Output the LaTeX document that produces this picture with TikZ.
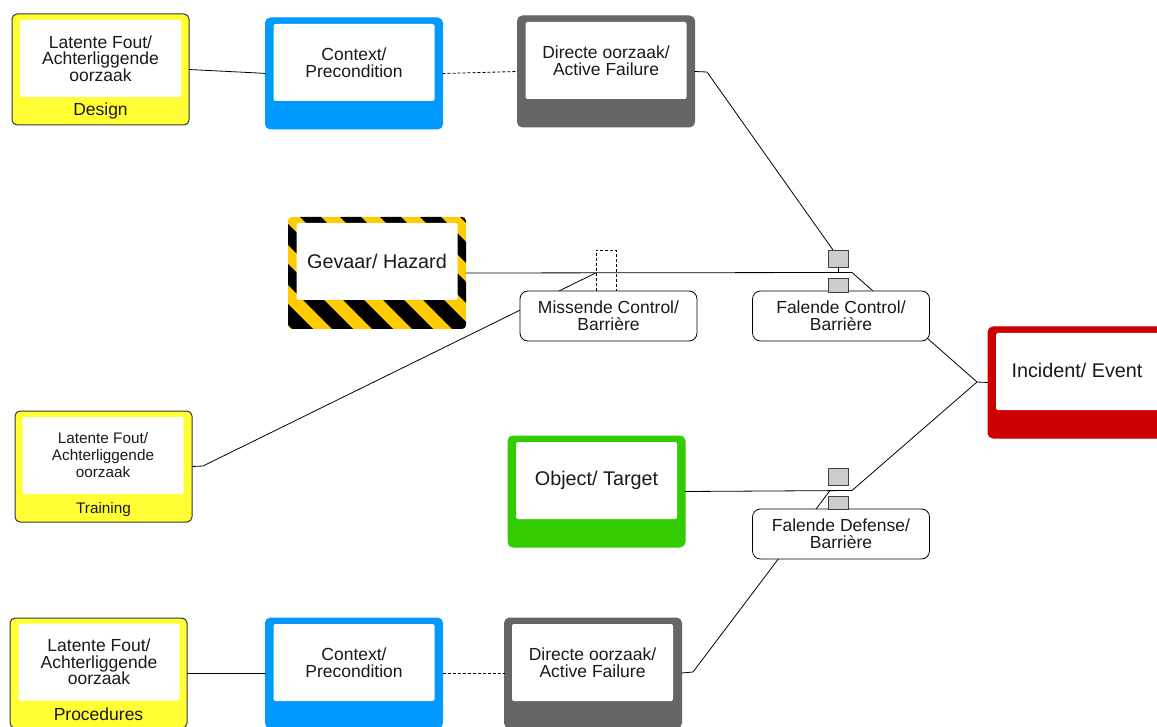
\documentclass[tikz,border=0pt]{standalone}
\usepackage{fontspec}
\setmainfont{Liberation Sans}
\usetikzlibrary{calc}
\definecolor{latyellow}{HTML}{FFFF33}
\definecolor{ctxblue}{HTML}{0099FF}
\definecolor{actgray}{HTML}{666666}
\definecolor{objgreen}{HTML}{33CC00}
\definecolor{incred}{HTML}{CC0000}
\definecolor{hazyellow}{HTML}{FFCC00}
\definecolor{gatefill}{HTML}{CCCCCC}
\definecolor{inkdark}{HTML}{1A1A1A}
\begin{document}
\begin{tikzpicture}[x=1pt,y=-1pt,
  frame/.style={rounded corners=5pt, inner sep=0pt, outer sep=0pt,
    minimum width=177pt, minimum height=111pt, line width=1pt},
  latent/.style={frame, fill=latyellow, draw=black!80},
  pane/.style={fill=white, rounded corners=2pt, inner sep=0pt, outer sep=0pt,
    minimum width=161pt, minimum height=77pt, align=center, text=inkdark,
    font=\fontsize{17.5}{16.5}\selectfont},
  bigtext/.style={font=\fontsize{19.8}{20}\selectfont, text=inkdark},
  tag/.style={inner sep=0pt, text=inkdark, font=\fontsize{17.5}{17}\selectfont},
  barrier/.style={draw=black, fill=white, rounded corners=8pt, line width=0.8pt,
    minimum width=177pt, minimum height=50pt, inner sep=0pt, outer sep=0pt,
    align=center, text=inkdark, font=\fontsize{17.5}{17}\selectfont},
  gate/.style={draw=black!75, fill=gatefill, line width=0.8pt, inner sep=0pt,
    outer sep=0pt, minimum width=20pt},
  link/.style={line width=0.8pt, black}
]
\clip (0,0) rectangle (1157,727);
\fill[white] (0,0) rectangle (1157,727);

% bend points of the connectors
\coordinate (b1) at (258,73);
\coordinate (b2) at (707,72);
\coordinate (b3) at (852,272.5);
\coordinate (b4) at (203,466);
\coordinate (b5) at (977,382);
\coordinate (b6) at (852,490.5);
\coordinate (b7) at (693,672);
\coordinate (j2) at (830,490.5);

% cause chain frames
\node[latent] (des) at (100.5,69.5) {};
\node[pane] (desT) at (100.5,58.5) {Latente Fout/\\Achterliggende\\oorzaak};
\node[tag, anchor=base] (desL) at (100.5,116) {Design};

\node[frame, fill=ctxblue, draw=ctxblue] (ctx1) at (354,73.5) {};
\node[pane] (ctx1T) at (354,62.5) {Context/\\Precondition};

\node[frame, fill=actgray, draw=actgray] (dir1) at (606,71.5) {};
\node[pane] (dir1T) at (606,60.5) {Directe oorzaak/\\Active Failure};

% hazard frame with diagonal stripes
\begin{scope}
  \clip[rounded corners=4pt] (288,217) rectangle (466,329);
  \fill[hazyellow] (288,217) rectangle (466,329);
  \foreach \k in {-4,...,6}
    \fill[black] (300+\k*40,217) -- ++(21,0) -- ++(112,112) -- ++(-21,0) -- cycle;
\end{scope}
\node[frame, minimum height=112pt] (hz) at (377,273) {};
\node[pane, bigtext] (hzT) at (377,261.5) {Gevaar/ Hazard};

\node[latent] (tr) at (103.5,466.5) {};
\node[pane, font=\fontsize{15.3}{17}\selectfont] (trT) at (103,455.5) {Latente Fout/\\Achterliggende\\oorzaak};
\node[tag, anchor=base, font=\fontsize{15.3}{17}\selectfont] (trL) at (103.5,513.5) {Training};

\node[frame, fill=objgreen, draw=objgreen] (obj) at (596.5,491.5) {};
\node[pane, bigtext] (objT) at (596.5,480.5) {Object/ Target};

\node[frame, fill=incred, draw=incred, minimum width=176pt] (inc) at (1076,382.5) {};
\node[pane, minimum width=168pt] (incP) at (1080,371.5) {};
\node[bigtext] (incT) at (1077,370) {Incident/ Event};

\node[latent, minimum height=110pt] (proc) at (98.5,673) {};
\node[pane] (procT) at (99,662) {Latente Fout/\\Achterliggende\\oorzaak};
\node[tag, anchor=base] (procL) at (98.5,720) {Procedures};

\node[frame, fill=ctxblue, draw=ctxblue, minimum height=110pt] (ctx2) at (354,673) {};
\node[pane] (ctx2T) at (354,662.5) {Context/\\Precondition};

\node[frame, fill=actgray, draw=actgray, minimum height=110pt] (dir2) at (593,673) {};
\node[pane] (dir2T) at (592.5,662.5) {Directe oorzaak/\\Active Failure};

% connectors
\draw[link] (des.east) -- (b1) -- (ctx1.west);
\draw[link, dashed, dash pattern=on 3pt off 2pt] (ctx1.east) -- (dir1.west);
\draw[link, dashed, dash pattern=on 3pt off 2pt] (ctx2.east) -- (dir2.west);
\draw[link] (proc.east) -- (ctx2.west);

\node[draw=black, dashed, dash pattern=on 3pt off 2pt, line width=0.8pt,
  minimum width=20pt, minimum height=42pt, inner sep=0pt] (miss) at (606,271) {};

\draw[link] (dir1.east) -- (b2) -- ($(838,250)+(-5,0)$) coordinate (g1top);
\draw[link] (hz.east) -- (b3) -- ($(841,291)+(32,0)$) coordinate (fcTop);
\draw[link] (tr.east) -- (b4) -- (miss.west |- hz.east);
\draw[link] ($(841,316)+(86,22)$) coordinate (fcCorner) -- (b5) -- (inc.west);
\draw[link] (obj.east) -- (b6) -- (b5);
\draw[link] (dir2.east) -- (b7) -- (j2);

% barrier boxes
\node[barrier] (mc) at (608.5,316) {Missende Control/\\Barrière};
\node[barrier] (fc) at (841,316) {Falende Control/\\Barrière};
\node[barrier] (fd) at (841,534) {Falende Defense/\\Barrière};

% gates on the failing barriers
\node[gate, minimum height=17pt] (g1) at (838,258.5) {};
\node[gate, minimum height=14pt] (g2) at (838,285) {};
\draw[link] (g1.south) -- (g1.south |- hz.east);
\node[gate, minimum height=17pt] (g3) at (838,476.5) {};
\node[gate, minimum height=13pt] (g4) at (838,502.5) {};
\end{tikzpicture}
\end{document}
